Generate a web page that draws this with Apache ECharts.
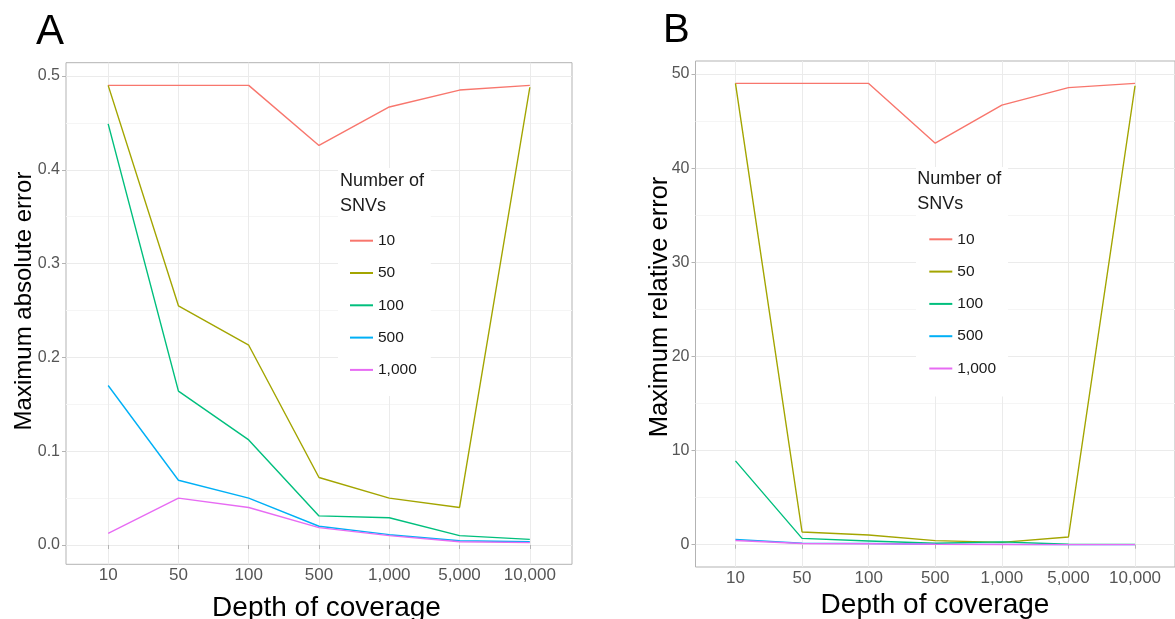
<!DOCTYPE html>
<html><head><meta charset="utf-8">
<script src="https://cdn.jsdelivr.net/npm/echarts@6/dist/echarts.min.js"></script>
<style>html,body{margin:0;padding:0;background:#fff}#c{width:1175px;height:619px}</style>
</head><body><div id="c"></div>
<script>
// ---- data ----
const depthLabels = ['10', '50', '100', '500', '1,000', '5,000', '10,000'];
const snvLabels = ['10', '50', '100', '500', '1,000'];
const snvColors = ['#F8766D', '#A3A500', '#00BF7D', '#00B0F6', '#E76BF3'];

const absErr10   = [0.490, 0.490, 0.490, 0.426, 0.467, 0.485, 0.490];
const absErr50   = [0.490, 0.255, 0.213, 0.072, 0.050, 0.040, 0.488];
const absErr100  = [0.449, 0.164, 0.112, 0.031, 0.029, 0.010, 0.006];
const absErr500  = [0.170, 0.069, 0.050, 0.020, 0.011, 0.0046, 0.0035];
const absErr1000 = [0.0125, 0.050, 0.040, 0.0185, 0.010, 0.0035, 0.0025];

const relErr10   = [49.0, 49.0, 49.0, 42.65, 46.7, 48.55, 49.0];
const relErr50   = [49.0, 1.35, 1.03, 0.43, 0.25, 0.82, 48.75];
const relErr100  = [8.9, 0.67, 0.40, 0.15, 0.30, 0.05, 0.03];
const relErr500  = [0.55, 0.15, 0.12, 0.05, 0.03, 0.01, 0.01];
const relErr1000 = [0.45, 0.12, 0.10, 0.04, 0.02, 0.01, 0.005];

const yTicksA = [0, 0.1, 0.2, 0.3, 0.4, 0.5];
const yMinorA = [0.05, 0.15, 0.25, 0.35, 0.45];
const yTicksB = [0, 10, 20, 30, 40, 50];
const yMinorB = [5, 15, 25, 35, 45];

// ---- chart ----
const FONT = '"Liberation Sans", Arial, Helvetica, sans-serif';
const xIdx = depthLabels.map((_, i) => i + 1);
const absSets = [absErr10, absErr50, absErr100, absErr500, absErr1000];
const relSets = [relErr10, relErr50, relErr100, relErr500, relErr1000];

function xAxisFor(gi) {
  return {
    type: 'value', gridIndex: gi, min: 0.4, max: 7.6,
    axisLine: {show: false},
    axisTick: {show: true, length: 4, lineStyle: {color: '#b3b3b3'}, customValues: xIdx},
    axisLabel: {customValues: xIdx, formatter: v => depthLabels[Math.round(v) - 1],
      color: '#555', fontSize: 17, fontFamily: FONT, margin: 3},
    splitLine: {show: true, lineStyle: {color: '#ebebeb', width: 1}}
  };
}
function yMinor(gi, min, max, vals) {
  return {
    type: 'value', gridIndex: gi, min: min, max: max, position: 'left',
    axisLine: {show: false}, axisLabel: {show: false},
    axisTick: {show: false, customValues: vals},
    splitLine: {show: true, lineStyle: {color: '#f5f5f5', width: 1}}
  };
}
function yMajor(gi, min, max, vals, fmt) {
  return {
    type: 'value', gridIndex: gi, min: min, max: max, position: 'left',
    axisLine: {show: false},
    axisTick: {show: true, length: 4, lineStyle: {color: '#b3b3b3'}, customValues: vals},
    axisLabel: {customValues: vals, formatter: fmt, color: '#555', fontSize: 16, fontFamily: FONT, margin: 6},
    splitLine: {show: true, lineStyle: {color: '#ebebeb', width: 1}}
  };
}
function seriesFor(sets, xi, yi) {
  return sets.map((arr, k) => ({
    type: 'line', name: snvLabels[k], xAxisIndex: xi, yAxisIndex: yi,
    data: arr.map((v, i) => [xIdx[i], v]),
    showSymbol: false, symbol: 'none', silent: true,
    lineStyle: {color: snvColors[k], width: 1.4},
    itemStyle: {color: snvColors[k]},
    z: 2 + k
  }));
}
function legendFor(left, top, padding) {
  return {
    orient: 'vertical', left: left, top: top, padding: padding,
    backgroundColor: '#ffffff',
    data: snvLabels.map(n => ({name: n, icon: 'rect'})),
    itemWidth: 23, itemHeight: 2, itemGap: 16.3,
    selectedMode: false,
    textStyle: {color: '#1a1a1a', fontSize: 15.5, fontFamily: FONT, lineHeight: 16}
  };
}
function txt(x, y, s, size, opts) {
  return Object.assign({
    type: 'text', x: x, y: y, z: 100,
    style: Object.assign({text: s, fill: '#000', font: size + 'px ' + FONT,
      textAlign: 'left', textVerticalAlign: 'middle'}, (opts && opts.style) || {})
  }, opts && opts.rotation !== undefined ? {rotation: opts.rotation} : {});
}

const chart = echarts.init(document.getElementById('c'), null, {renderer: 'canvas'});
chart.setOption({
  animation: false,
  backgroundColor: '#ffffff',
  grid: [
    {left: 66, top: 62.7, width: 506, height: 501.6, show: true, borderColor: '#b3b3b3', borderWidth: 1, backgroundColor: '#fff', containLabel: false},
    {left: 695.5, top: 61, width: 491.5, height: 506, show: true, borderColor: '#b3b3b3', borderWidth: 1, backgroundColor: '#fff', containLabel: false}
  ],
  xAxis: [xAxisFor(0), xAxisFor(1)],
  yAxis: [
    yMinor(0, -0.02058, 0.51418, yMinorA),
    yMajor(0, -0.02058, 0.51418, yTicksA, v => v.toFixed(1)),
    yMinor(1, -2.369, 51.38, yMinorB),
    yMajor(1, -2.369, 51.38, yTicksB, v => String(Math.round(v)))
  ],
  legend: [
    legendFor(338, 168, [64.7, 14, 18, 12]),
    legendFor(916, 167, [64.3, 12, 20, 13.3])
  ],
  series: seriesFor(absSets, 0, 1).concat(seriesFor(relSets, 1, 3)),
  graphic: [
    txt(36, 32.5, 'A', 42),
    txt(663, 31, 'B', 40),
    txt(340, 181.2, 'Number of', 18, {style: {fill: '#1a1a1a'}}),
    txt(340, 206, 'SNVs', 18, {style: {fill: '#1a1a1a'}}),
    txt(917.3, 179.5, 'Number of', 18, {style: {fill: '#1a1a1a'}}),
    txt(917.3, 204.3, 'SNVs', 18, {style: {fill: '#1a1a1a'}}),
    txt(326.5, 608.3, 'Depth of coverage', 28, {style: {textAlign: 'center'}}),
    txt(935, 605.5, 'Depth of coverage', 28, {style: {textAlign: 'center'}}),
    txt(24.5, 301, 'Maximum absolute error', 24, {rotation: Math.PI / 2, style: {textAlign: 'center'}}),
    txt(659.5, 307, 'Maximum relative error', 25.5, {rotation: Math.PI / 2, style: {textAlign: 'center'}})
  ]
});
</script>
</body></html>
